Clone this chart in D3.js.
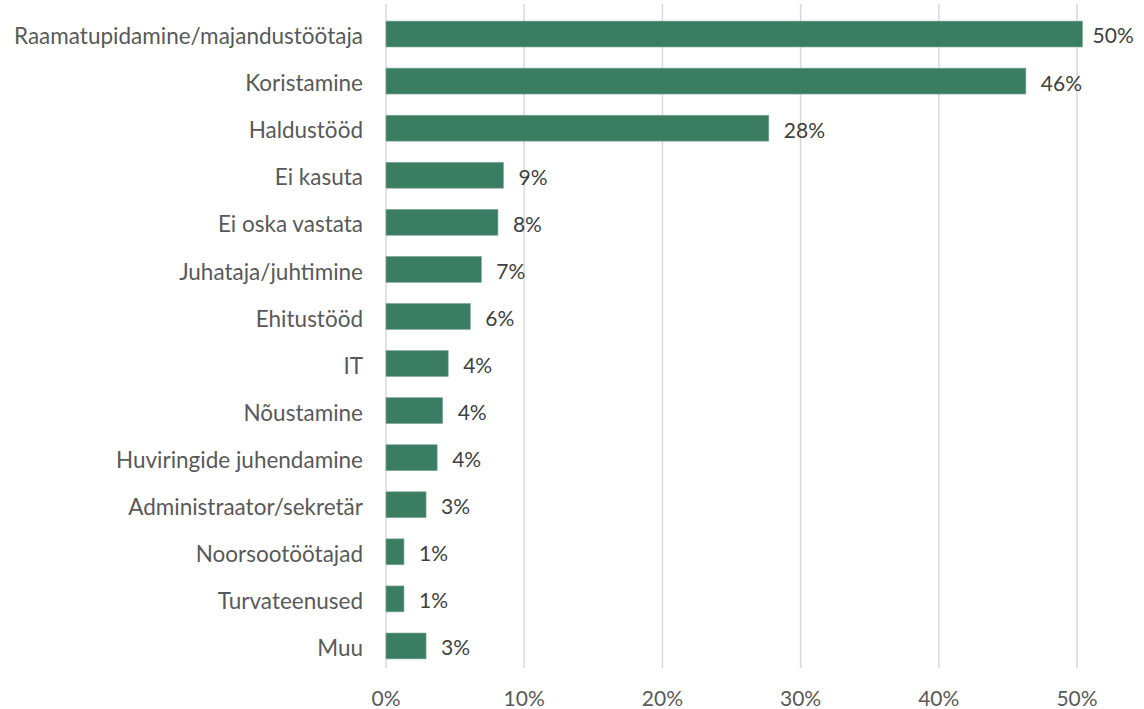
<!DOCTYPE html>
<html>
<head>
<meta charset="utf-8">
<script src="https://cdn.jsdelivr.net/npm/d3@7"></script>
<style>
  body { margin: 0; background: #fff; }
  text { font-family: Lato, "Open Sans", sans-serif; }
</style>
</head>
<body>
<div id="vis"></div>
<script>
// data
const categories = ["Raamatupidamine/majandustöötaja", "Koristamine", "Haldustööd", "Ei kasuta",
  "Ei oska vastata", "Juhataja/juhtimine", "Ehitustööd", "IT", "Nõustamine",
  "Huviringide juhendamine", "Administraator/sekretär", "Noorsootöötajad", "Turvateenused", "Muu"]
const values = [50.4, 46.3, 27.7, 8.5, 8.1, 6.9, 6.1, 4.5, 4.1, 3.7, 2.9, 1.3, 1.3, 2.9]
const valueLabels = ["50%", "46%", "28%", "9%", "8%", "7%", "6%", "4%", "4%", "4%", "3%", "1%", "1%", "3%"]
const ticks = [0, 10, 20, 30, 40, 50]

const width = 1144, height = 709
const margin = {left: 386, right: 67, top: 10.5, bottom: 39.5}

let svg = d3.select('#vis')
  .append('svg')
  .attr('width', width)
  .attr('height', height)

let xScale = d3.scaleLinear()
  .domain([0, 50])
  .range([margin.left, width - margin.right])

let yScale = d3.scaleBand()
  .domain(categories)
  .range([margin.top, height - margin.bottom])
  .paddingInner(0.45)
  .paddingOuter(0.225)

// gridlines
svg.append('g')
  .selectAll('line')
  .data(ticks)
  .enter()
  .append('line')
    .attr('x1', d => xScale(d))
    .attr('x2', d => xScale(d))
    .attr('y1', 4)
    .attr('y2', 668)
    .attr('stroke', '#d9d9d9')
    .attr('stroke-width', 1.5)

// x tick labels
svg.append('g')
  .selectAll('text')
  .data(ticks)
  .enter()
  .append('text')
    .attr('x', d => xScale(d))
    .attr('y', 706)
    .attr('text-anchor', 'middle')
    .attr('font-size', '21px')
    .attr('fill', '#595959')
    .text(d => d + '%')

// bars
svg.append('g')
  .selectAll('rect')
  .data(values)
  .enter()
  .append('rect')
    .attr('x', xScale(0))
    .attr('y', (d, i) => yScale(categories[i]))
    .attr('width', d => xScale(d) - xScale(0))
    .attr('height', yScale.bandwidth())
    .attr('fill', '#3b7d63')
    .attr('stroke', '#7fa995')
    .attr('stroke-width', 0.6)

// value labels
svg.append('g')
  .selectAll('text')
  .data(values)
  .enter()
  .append('text')
    .attr('x', (d, i) => i === 0 ? xScale(d) + 10 : xScale(d) + 15)
    .attr('y', (d, i) => yScale(categories[i]) + yScale.bandwidth() / 2)
    .attr('dy', '0.45em')
    .attr('font-size', '21px')
    .attr('fill', '#404040')
    .text((d, i) => valueLabels[i])

// category labels
svg.append('g')
  .selectAll('text')
  .data(categories)
  .enter()
  .append('text')
    .attr('x', margin.left - 23)
    .attr('y', d => yScale(d) + yScale.bandwidth() / 2)
    .attr('dy', '0.45em')
    .attr('text-anchor', 'end')
    .attr('font-size', '22.5px')
    .attr('fill', '#595959')
    .text(d => d)
</script>
</body>
</html>
